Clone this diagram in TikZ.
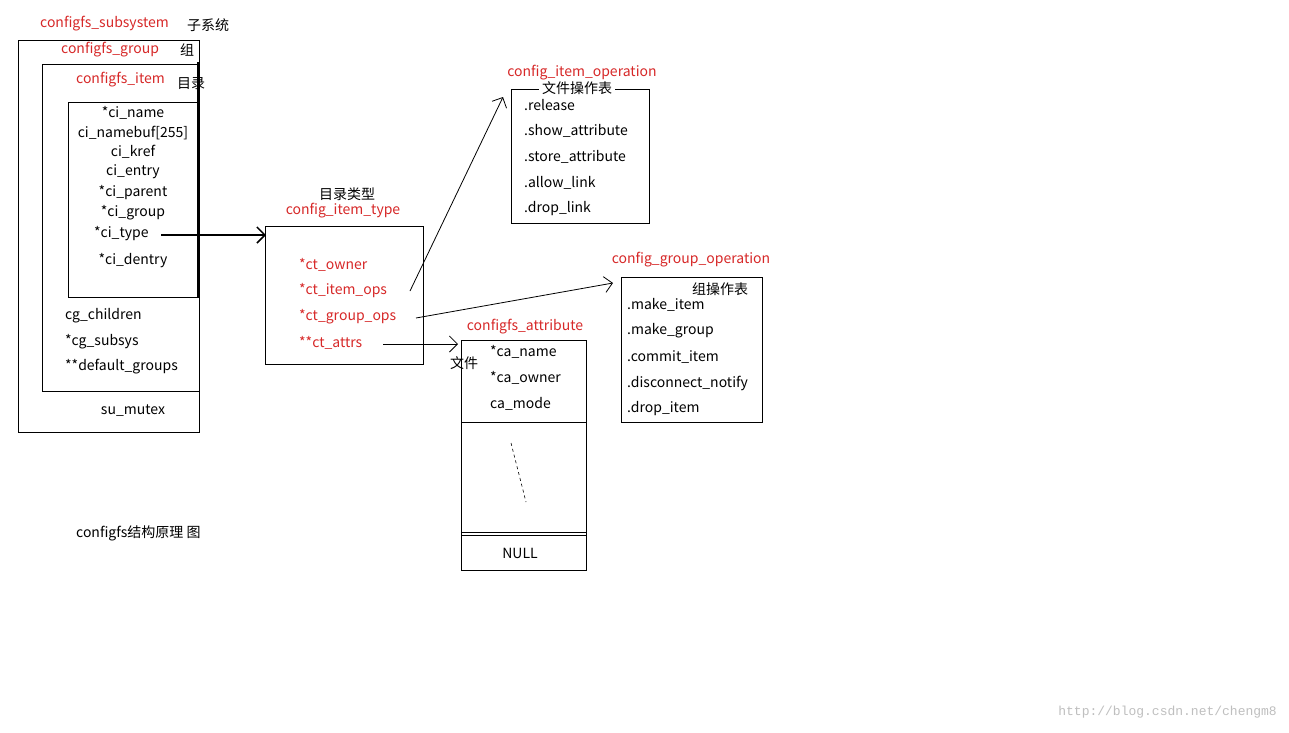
\documentclass[tikz,border=0pt]{standalone}
\usepackage{fontspec}
\setmainfont{Noto Sans CJK SC}
\newfontfamily\wm{Liberation Mono}
\usetikzlibrary{arrows.meta}
\definecolor{rd}{RGB}{215,40,40}
\tikzset{
  t/.style={inner sep=0pt,font=\fontsize{14}{16}\selectfont},
  r/.style={t,text=rd},
  bx/.style={draw,line width=0.8pt},
  ar/.style={line width=0.8pt,-{Straight Barb[length=8pt,width=16pt]}},
}
\begin{document}
\begin{tikzpicture}[x=1pt,y=-1pt]
\useasboundingbox[fill=white] (0,0) rectangle (1289,732);
% subsystem
\draw[bx] (18,40) rectangle (199,432);
\draw[bx] (42,64) rectangle (199,391);
\draw[bx] (68,102) rectangle (198,297);
\draw[line width=2pt] (198,62) -- (198,297);
\node[r,anchor=west] (ls) at (40,24) {configfs\_subsystem};
\node[t,anchor=west] at (187,25) {子系统};
\node[r,anchor=west] (lg) at (61,50) {configfs\_group};
\node[t,anchor=west] at (180,50) {组};
\node[r,anchor=west] (li) at (76,80) {configfs\_item};
\node[t,anchor=west] at (177,84) {目录};
\foreach \s/\y in {*ci\_name/113,ci\_namebuf[255]/133,ci\_kref/152,ci\_entry/172,*ci\_parent/193,*ci\_group/213,*ci\_dentry/261}
  \node[t] at (133,\y) {\s};
\node[t,anchor=west] (citype) at (94,234) {*ci\_type};
\node[t,anchor=west] at (65,316) {cg\_children};
\node[t,anchor=west] at (65,342) {*cg\_subsys};
\node[t,anchor=west] at (65,367) {**default\_groups};
\node[t] at (133,411) {su\_mutex};
% item type
\draw[bx] (265,226) rectangle (423,364);
\node[t] at (347,194) {目录类型};
\node[r] at (343,211) {config\_item\_type};
\node[r,anchor=west] at (299,265) {*ct\_owner};
\node[r,anchor=west] (ops) at (299,291) {*ct\_item\_ops};
\node[r,anchor=west] (gops) at (299,317) {*ct\_group\_ops};
\node[r,anchor=west] (attrs) at (299,343) {**ct\_attrs};
\coordinate (tin) at (266,235);
% item operation
\draw[bx] (511,89) rectangle (649,223);
\node[r] at (582,73) {config\_item\_operation};
\node[t,fill=white,inner xsep=3pt] at (577,88) {文件操作表};
\foreach \s/\y in {.release/105,.show\_attribute/131,.store\_attribute/157,.allow\_link/183,.drop\_link/209}
  \node[t,anchor=west] at (524,\y) {\s};
\coordinate (iop) at (503,97);
% group operation
\draw[bx] (621,277) rectangle (762,422);
\node[r] at (691,260) {config\_group\_operation};
\node[t] at (720,289) {组操作表};
\foreach \s/\y in {.make\_item/305,.make\_group/331,.commit\_item/357,.disconnect\_notify/383,.drop\_item/409}
  \node[t,anchor=west] at (627,\y) {\s};
\coordinate (gop) at (613,283);
% attribute
\draw[bx] (461,340) rectangle (586,570);
\draw[line width=0.8pt] (461,422) -- (586,422) (461,532) -- (586,532) (461,535) -- (586,535);
\node[r] at (525,327) {configfs\_attribute};
\node[t] at (464,363) {文件};
\foreach \s/\y in {*ca\_name/352,*ca\_owner/378,ca\_mode/404}
  \node[t,anchor=west] at (490,\y) {\s};
\node[t] at (520,553) {NULL};
\draw[dashed,line width=0.6pt] (511,443) -- (526,502);
\coordinate (ain) at (458,344);
% arrows
\draw[ar,line width=1.5pt] (161,235) -- (tin);
\draw[ar] (410,291) -- (iop);
\draw[ar] (416,318) -- (gop);
\draw[ar] (383,344) -- (ain);
\node[t,anchor=west] at (76,533) {configfs结构原理 图};
\node[inner sep=0pt,anchor=east,text=black!25,font=\wm\fontsize{13}{15}\selectfont] at (1277,712) {http://blog.csdn.net/chengm8};
\end{tikzpicture}
\end{document}
